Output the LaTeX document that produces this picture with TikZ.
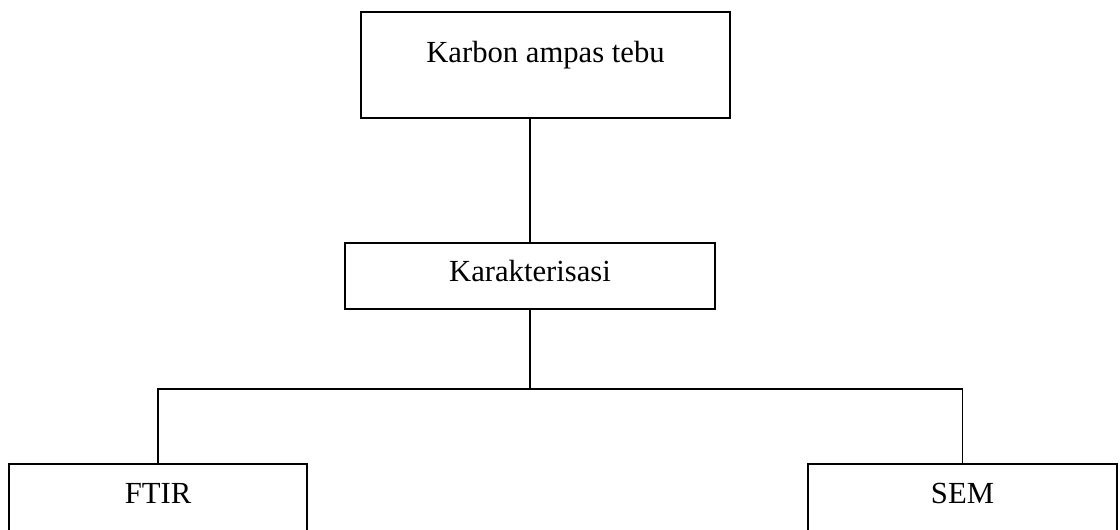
\documentclass[tikz,border=0pt]{standalone}
\usepackage{fontspec}
\setmainfont{Liberation Serif}
\usetikzlibrary{positioning}
\tikzset{
  box/.style={draw=black,line width=1.5pt,fill=white,inner sep=2pt,
    font=\fontsize{23}{27}\selectfont,text height=16pt,text depth=8pt},
  leafbox/.style={box,minimum height=54pt,text depth=11.5pt},
  link/.style={draw=black,line width=.9pt},
}

\begin{document}
\begin{tikzpicture}[x=0.75pt,y=-0.75pt]
\useasboundingbox (0,0) rectangle (1120,530);
\clip (0,0) rectangle (1120,530);
\node[box,minimum width=276.75pt,minimum height=79.5pt,text depth=19pt] (karbon) at (545.5,65) {Karbon ampas tebu};
\node[box,minimum width=277.5pt,minimum height=49.5pt] (karakter) at (530,276) {Karakterisasi};
\node[leafbox,minimum width=223.5pt] (ftir) at (158,500) {FTIR};
\node[leafbox,minimum width=231.75pt] (sem) at (962.5,500) {SEM};
\coordinate (split) at (530,389);
\draw[link] (karakter.north) -- (karakter.north |- karbon.south);
\draw[link] (karakter.south) -- (split);
\draw[link] (ftir.north) |- (split) -| (sem.north);
\end{tikzpicture}
\end{document}
